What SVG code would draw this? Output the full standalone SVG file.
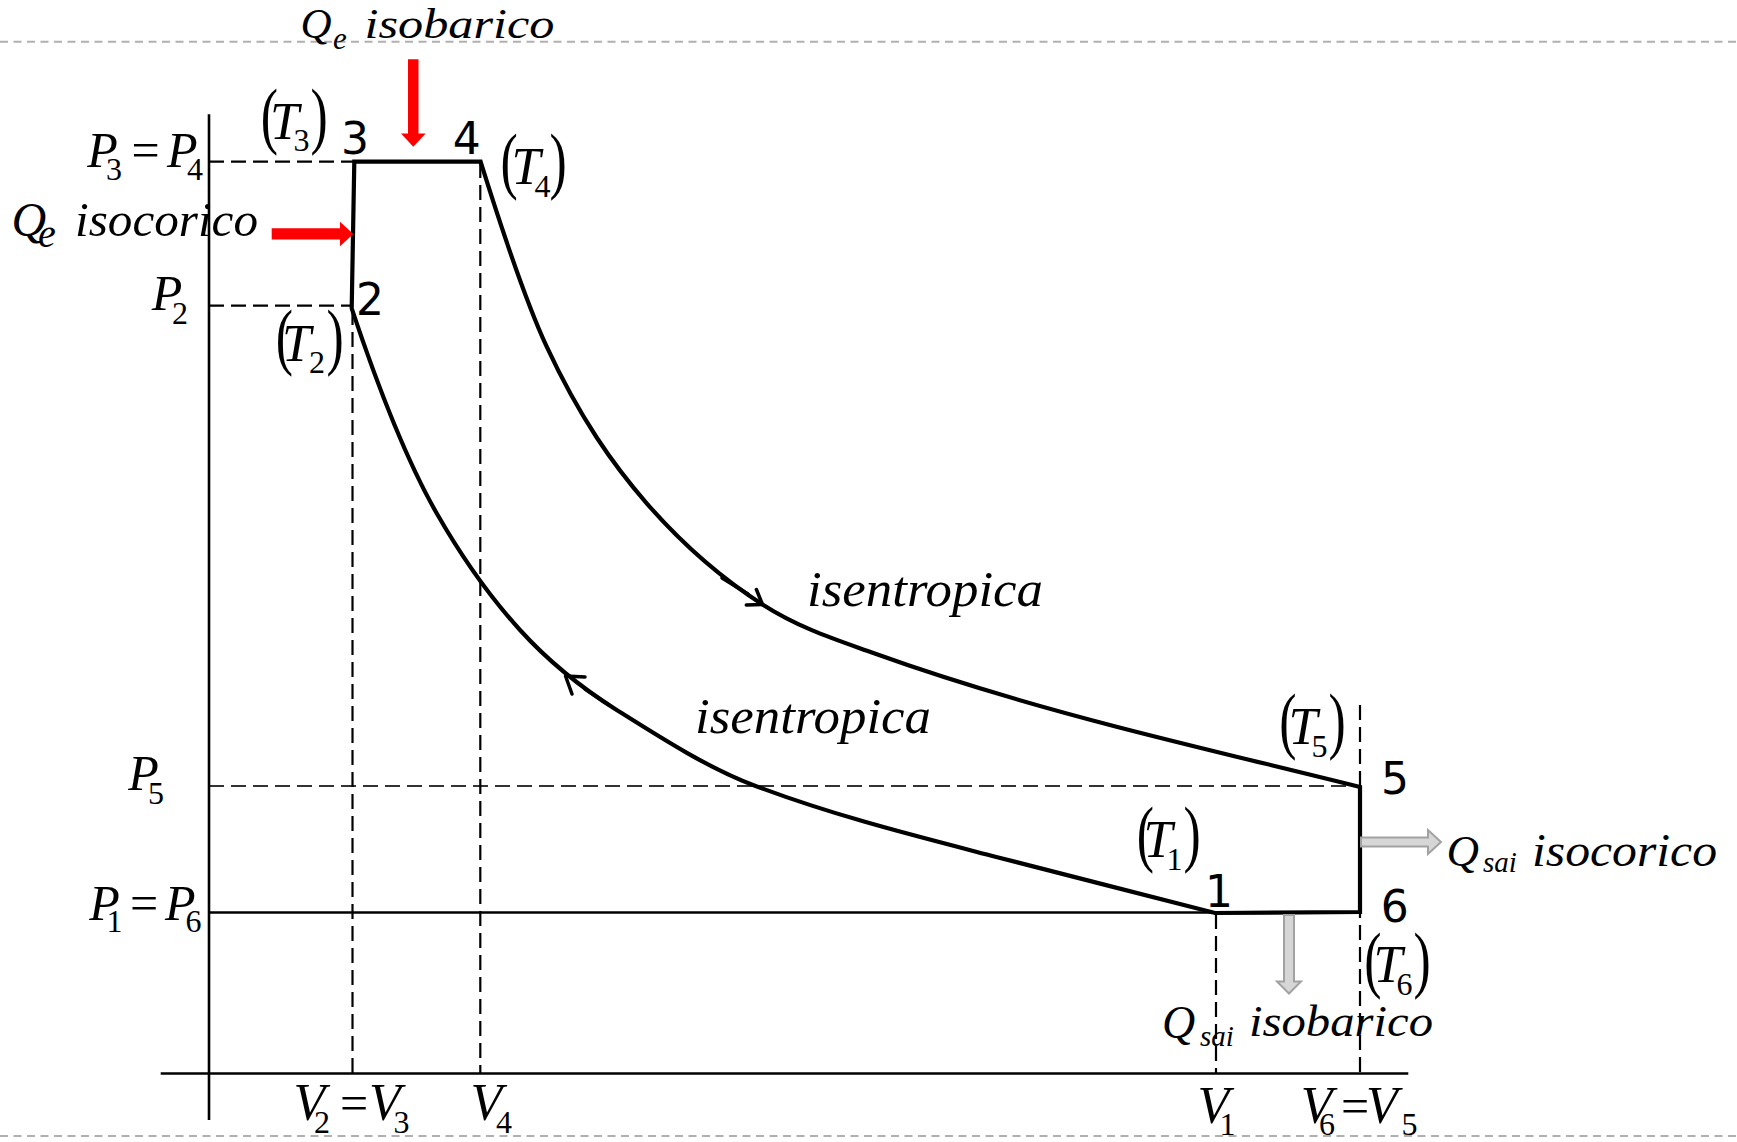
<svg xmlns="http://www.w3.org/2000/svg" width="1737" height="1142" viewBox="0 0 1737 1142">
<defs>
<style>
.bg{fill:#fff}
.gd{stroke:#b0b0b0;stroke-width:2;stroke-dasharray:8 5.5;fill:none}
.ax{stroke:#000;stroke-width:2.6;fill:none}
.ds{stroke:#000;stroke-width:2.2;stroke-dasharray:15 7;fill:none}
.ds5{stroke:#333;stroke-width:2.2;stroke-dasharray:15 7;fill:none}
.cy{stroke:#000;stroke-width:4.2;fill:none;stroke-linejoin:miter}
.ah{stroke:#000;stroke-width:3.5;fill:none;stroke-linecap:round;stroke-linejoin:round}
.red{fill:#ff0000}
.gray{fill:#d6d6d6;stroke:#a2a2a2;stroke-width:2}
.mi{font-family:"Liberation Serif","Times New Roman",serif;font-style:italic;fill:#000}
.mr{font-family:"Liberation Serif","Times New Roman",serif;fill:#000}
.par{font-family:"Liberation Serif","Times New Roman",serif;font-size:74px;fill:#000}
.num{font-family:"DejaVu Sans",Verdana,sans-serif;font-size:44px;fill:#000;text-anchor:middle}
.T{font-size:52px}
.s{font-size:32px}
.P{font-size:50px}
</style>
</defs>
<rect class="bg" x="0" y="0" width="1737" height="1142"/>

<g id="frame">
<line class="gd" x1="0" y1="41.7" x2="1737" y2="41.7"/>
<line class="gd" x1="0" y1="1136" x2="1737" y2="1136"/>
</g>

<g id="guides">
<line class="ds" x1="209" y1="161.7" x2="354" y2="161.7"/>
<line class="ds" x1="209" y1="305.7" x2="352" y2="305.7"/>
<line class="ds5" x1="209" y1="786" x2="1360" y2="786"/>
<line class="ax" x1="209" y1="912.5" x2="1215" y2="912.5"/>
<line class="ds" x1="352.5" y1="310" x2="352.5" y2="1073.5"/>
<line class="ds" x1="480.3" y1="163" x2="480.3" y2="1073.5"/>
<line class="ds" x1="1216" y1="914" x2="1216" y2="1073.5"/>
<line class="ds" x1="1360" y1="705" x2="1360" y2="1073.5"/>
</g>

<g id="axes">
<line class="ax" x1="209" y1="114.3" x2="209" y2="1120"/>
<line class="ax" x1="160.7" y1="1073.5" x2="1408.3" y2="1073.5"/>
</g>

<g id="connectors">
<path id="cycle" class="cy" d="M351.7,308.3 L354.3,161.7 L480.6,161.7
C502.6,232.2 524.7,299.3 546.7,346.7
C580,418.3 613.4,465 646.7,503.3
C685.6,548 724.4,580.1 763.3,605
C800.2,628.6 837.1,640 874,653.3
C954.8,682.4 1035.7,705.7 1116.5,726.7
C1197.7,747.8 1278.8,766.7 1360,787
L1360,912 L1215,913
C1141.8,894 1068.5,875.7 995.3,856.7
C914.5,835.7 833.8,815.7 753,785
C707.6,767.7 662.1,738.6 616.7,710
C584.5,689.7 552.2,665.5 520,630
C492.2,599.5 464.5,561.9 436.7,513.3
C408.4,463.7 380,393.3 351.7,308.3 Z"/>
<polyline class="ah" points="746.3,605 762.5,604.5 756.4,589.5"/>
<line class="ah" x1="722" y1="578" x2="748" y2="594"/>
<polyline class="ah" points="585,677 565.5,676 572,694"/>
<line class="ah" x1="585" y1="689" x2="609" y2="705"/>
<polygon class="red" points="408,59.3 418.5,59.3 418.5,133.5 425.7,133.5 413.3,146.8 401,133.5 408,133.5"/>
<polygon class="red" points="271.7,228.3 340,228.3 340,221.7 353.3,234 340,246.2 340,239.4 271.7,239.4"/>
<polygon class="gray" points="1361,837.5 1428,837.5 1428,830 1441,842 1428,854 1428,846.5 1361,846.5"/>
<polygon class="gray" points="1284,915 1294,915 1294,981.5 1301,981.5 1289,993.5 1277,981.5 1284,981.5"/>
</g>

<g id="pt3">
<text class="num" x="355" y="154">3</text>
<text class="par" transform="translate(260.8,140) scale(0.7,1)">(</text>
<text class="mi T" x="269.9" y="139">T</text>
<text class="mr s" x="293.6" y="151">3</text>
<text class="par" transform="translate(310.5,140) scale(0.7,1)">)</text>
</g>
<g id="pt4">
<text class="num" x="466.7" y="154">4</text>
<text class="par" transform="translate(500.5,184.5) scale(0.7,1)">(</text>
<text class="mi T" x="511.6" y="183.5">T</text>
<text class="mr s" x="534.4" y="196.5">4</text>
<text class="par" transform="translate(549.5,184.5) scale(0.7,1)">)</text>
</g>
<g id="pt2">
<text class="num" x="370" y="315">2</text>
<text class="par" transform="translate(275.8,361) scale(0.7,1)">(</text>
<text class="mi T" x="281.9" y="361">T</text>
<text class="mr s" x="309" y="373">2</text>
<text class="par" transform="translate(326.5,361) scale(0.7,1)">)</text>
</g>
<g id="pt5">
<text class="num" x="1395" y="794">5</text>
<text class="par" transform="translate(1279.2,745) scale(0.7,1)">(</text>
<text class="mi T" x="1288.6" y="744">T</text>
<text class="mr s" x="1311.6" y="756.7">5</text>
<text class="par" transform="translate(1328.5,745) scale(0.7,1)">)</text>
</g>
<g id="pt1">
<text class="num" x="1219" y="906.7">1</text>
<text class="par" transform="translate(1136.8,858) scale(0.7,1)">(</text>
<text class="mi T" x="1143.6" y="857">T</text>
<text class="mr s" x="1166.4" y="870">1</text>
<text class="par" transform="translate(1183.5,858) scale(0.7,1)">)</text>
</g>
<g id="pt6">
<text class="num" x="1394.7" y="921.7">6</text>
<text class="par" transform="translate(1364.2,984) scale(0.7,1)">(</text>
<text class="mi T" x="1373.6" y="982">T</text>
<text class="mr s" x="1396.6" y="995">6</text>
<text class="par" transform="translate(1413.5,984) scale(0.7,1)">)</text>
</g>

<g id="p-labels">
<text class="mi P" x="87.3" y="166.7">P</text>
<text class="mr s" x="106" y="180">3</text>
<text class="mr P" x="131.5" y="166.7">=</text>
<text class="mi P" x="167" y="166.7">P</text>
<text class="mr s" x="187" y="180">4</text>
<text class="mi P" x="151.7" y="310">P</text>
<text class="mr s" x="172" y="324">2</text>
<text class="mi P" x="128.3" y="790">P</text>
<text class="mr s" x="148" y="804">5</text>
<text class="mi P" x="89.3" y="920">P</text>
<text class="mr s" x="106.5" y="932">1</text>
<text class="mr P" x="130" y="920">=</text>
<text class="mi P" x="165" y="920">P</text>
<text class="mr s" x="185.5" y="932">6</text>
</g>

<g id="v-labels">
<text class="mi T" x="293.5" y="1120">V</text>
<text class="mr s" x="314" y="1133">2</text>
<text class="mr P" x="340" y="1120">=</text>
<text class="mi T" x="369" y="1120">V</text>
<text class="mr s" x="393.6" y="1133">3</text>
<text class="mi T" x="470.5" y="1120">V</text>
<text class="mr s" x="496" y="1133">4</text>
<text class="mi T" x="1197.5" y="1123">V</text>
<text class="mr s" x="1219.4" y="1134.5">1</text>
<text class="mi T" x="1300.8" y="1123">V</text>
<text class="mr s" x="1319" y="1134.5">6</text>
<text class="mr P" x="1341" y="1123">=</text>
<text class="mi T" x="1366" y="1123">V</text>
<text class="mr s" x="1401.5" y="1134.5">5</text>
</g>

<g id="heat-labels">
<text class="mi" x="300.5" y="38" font-size="43">Q</text>
<text class="mi" x="333" y="49" font-size="31">e</text>
<text class="mi" x="364.5" y="38" font-size="42" textLength="190" lengthAdjust="spacingAndGlyphs">isobarico</text>
<text class="mi" x="11.5" y="236" font-size="48">Q</text>
<text class="mi" x="38" y="247" font-size="40">e</text>
<text class="mi" x="75" y="236" font-size="48" textLength="183" lengthAdjust="spacingAndGlyphs">isocorico</text>
<text class="mi" x="1446.4" y="866" font-size="45">Q</text>
<text class="mi" x="1483" y="872" font-size="29">sai</text>
<text class="mi" x="1532" y="866" font-size="46" textLength="185" lengthAdjust="spacingAndGlyphs">isocorico</text>
<text class="mi" x="1162" y="1038" font-size="46">Q</text>
<text class="mi" x="1200" y="1046" font-size="29">sai</text>
<text class="mi" x="1249" y="1036" font-size="44" textLength="184" lengthAdjust="spacingAndGlyphs">isobarico</text>
<text class="mi" x="807" y="606" font-size="50" textLength="236" lengthAdjust="spacingAndGlyphs">isentropica</text>
<text class="mi" x="695" y="733.3" font-size="50" textLength="236" lengthAdjust="spacingAndGlyphs">isentropica</text>
</g>
</svg>
